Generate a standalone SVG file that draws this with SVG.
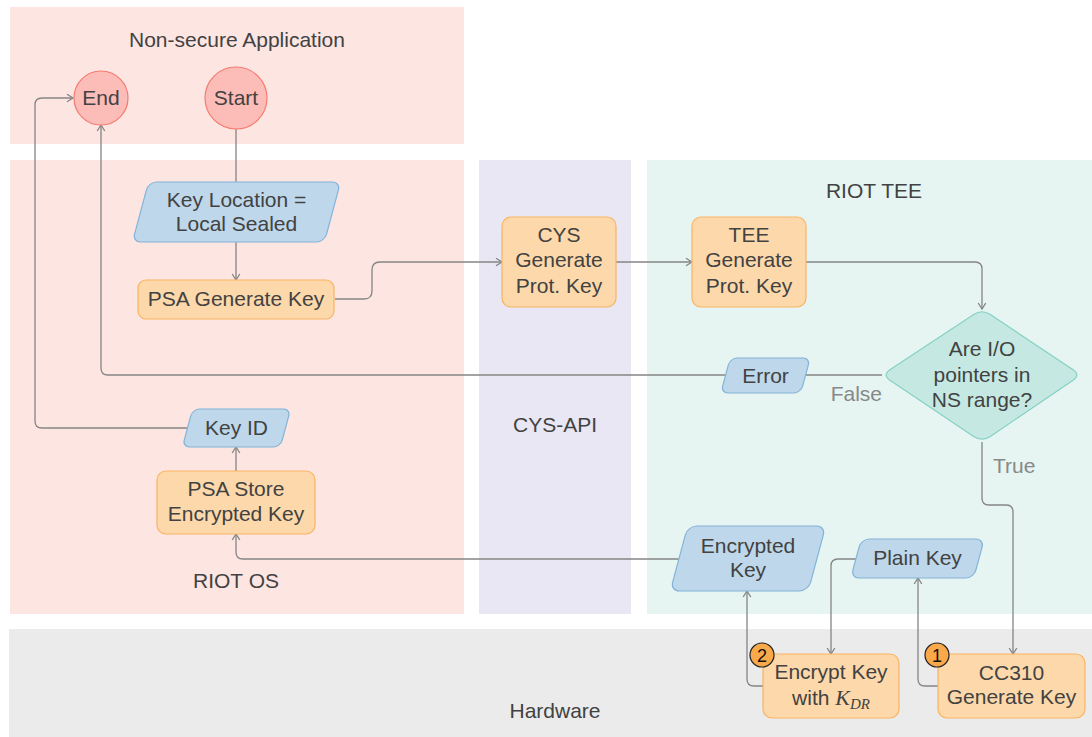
<svg xmlns="http://www.w3.org/2000/svg" width="1092" height="737" viewBox="0 0 1092 737">
  <style>
    text { font-family: "Liberation Sans", Arial, sans-serif; font-size: 21px; fill: #424242; text-anchor: middle; }
    .lane-os { fill: #fde5e2; }
    .lane-api { fill: #e9e7f3; }
    .lane-tee { fill: #e6f5f2; }
    .lane-hw { fill: #ebebeb; }
    .proc { fill: #fdd8aa; stroke: #f9b462; stroke-width: 1.2; }
    .data { fill: #bed7ea; stroke: #82b3d8; stroke-width: 1.2; }
    .term { fill: #fcbcb7; stroke: #f57b70; stroke-width: 1.2; }
    .dec { fill: #c5e9e2; stroke: #85d1c3; stroke-width: 1.2; }
    .badge { fill: #f9a84a; stroke: #222; stroke-width: 1.2; }
    .badge-t { fill: #111; font-size: 18px; }
    .edge { fill: none; stroke: #858585; stroke-width: 1.3; }
    .arr { marker-end: url(#head); }
    .elabel { fill: #888; }
  </style>
  <defs>
    <marker id="head" markerUnits="userSpaceOnUse" markerWidth="12" markerHeight="12" viewBox="-8 -6 10 12" refX="0" refY="0" orient="auto">
      <path d="M-6,-3.8 L0,0 L-6,3.8" fill="none" stroke="#858585" stroke-width="1.3"/>
    </marker>
  </defs>

  <!-- swimlanes -->
  <g id="lanes">
    <rect class="lane-os" x="10" y="7" width="454" height="137"/>
    <rect class="lane-os" x="10" y="160" width="454" height="454"/>
    <rect class="lane-api" x="479" y="160" width="152" height="454"/>
    <rect class="lane-tee" x="647" y="160" width="445" height="454"/>
    <rect class="lane-hw" x="9" y="629" width="1083" height="108"/>
    <text x="237" y="47">Non-secure Application</text>
    <text x="236" y="588">RIOT OS</text>
    <text x="555" y="432">CYS-API</text>
    <text x="874" y="198">RIOT TEE</text>
    <text x="555" y="718">Hardware</text>
  </g>

  <!-- connectors -->
  <g id="connectors">
    <path class="edge" d="M236,129 V182"/>
    <path class="edge arr" d="M236,242 V280"/>
    <path class="edge arr" d="M335,299 H364 Q372,299 372,291 V270 Q372,262 380,262 H502"/>
    <path class="edge arr" d="M616,262 H692"/>
    <path class="edge arr" d="M806,262 H975 Q982,262 982,269 V309"/>
    <path class="edge arr" d="M882,375 H108 Q101,375 101,368 V125"/>
    <path class="edge arr" d="M982,442 V498 Q982,505 989,505 H1006 Q1013,505 1013,512 V654"/>
    <path class="edge arr" d="M938,686 H925 Q918,686 918,679 V578"/>
    <path class="edge arr" d="M856,559 H838 Q831,559 831,566 V654"/>
    <path class="edge arr" d="M763,686 H754 Q747,686 747,679 V591"/>
    <path class="edge arr" d="M680,559 H243 Q236,559 236,552 V534"/>
    <path class="edge arr" d="M236,471 V447"/>
    <path class="edge arr" d="M188,428 H42 Q35,428 35,421 V105 Q35,98 42,98 H73"/>
    <text class="elabel" x="882" y="401" style="text-anchor:end">False</text>
    <text class="elabel" x="993" y="473" style="text-anchor:start">True</text>
  </g>

  <!-- nodes -->
  <g id="end">
    <circle class="term" cx="101" cy="98" r="27"/>
    <text x="101" y="105">End</text>
  </g>
  <g id="start">
    <circle class="term" cx="236" cy="98" r="31"/>
    <text x="236" y="105">Start</text>
  </g>
  <g id="key-location">
    <rect class="data" x="-96" y="-30" width="192" height="60" rx="8" transform="translate(236.5,212) skewX(-15)"/>
    <text x="236.5" y="207">Key Location =</text>
    <text x="236.5" y="231">Local Sealed</text>
  </g>
  <g id="psa-generate">
    <rect class="proc" x="138" y="280" width="196" height="39" rx="8"/>
    <text x="236" y="306">PSA Generate Key</text>
  </g>
  <g id="cys-generate">
    <rect class="proc" x="502" y="217" width="114" height="90" rx="9"/>
    <text x="559" y="242">CYS</text>
    <text x="559" y="267">Generate</text>
    <text x="559" y="293">Prot.  Key</text>
  </g>
  <g id="tee-generate">
    <rect class="proc" x="692" y="217" width="114" height="90" rx="9"/>
    <text x="749" y="242">TEE</text>
    <text x="749" y="267">Generate</text>
    <text x="749" y="293">Prot.  Key</text>
  </g>
  <g id="check-range">
    <path class="dec" d="M990.3,314.5 L1072.7,369.5 Q1081,375 1072.7,380.6 L990.3,436.4 Q982,442 973.7,436.4 L890.3,380.5 Q882,375 890.3,369.5 L973.7,314.5 Q982,309 990.3,314.5 Z"/>
    <text x="982" y="356">Are I/O</text>
    <text x="982" y="382">pointers in</text>
    <text x="982" y="407">NS range?</text>
  </g>
  <g id="error">
    <rect class="data" x="-40" y="-17.5" width="80" height="35" rx="7" transform="translate(765.5,375.5) skewX(-15)"/>
    <text x="765.5" y="383">Error</text>
  </g>
  <g id="key-id">
    <rect class="data" x="-49" y="-19" width="98" height="38" rx="7" transform="translate(236.5,428) skewX(-15)"/>
    <text x="236.5" y="435">Key ID</text>
  </g>
  <g id="psa-store">
    <rect class="proc" x="157" y="471" width="158" height="63" rx="9"/>
    <text x="236" y="496">PSA Store</text>
    <text x="236" y="521">Encrypted Key</text>
  </g>
  <g id="encrypted-key">
    <rect class="data" x="-69" y="-32.5" width="138" height="65" rx="9" transform="translate(748,558.5) skewX(-15)"/>
    <text x="748" y="553">Encrypted</text>
    <text x="748" y="577">Key</text>
  </g>
  <g id="plain-key">
    <rect class="data" x="-61.5" y="-19.5" width="123" height="39" rx="8" transform="translate(917.5,558.5) skewX(-15)"/>
    <text x="917.5" y="565">Plain Key</text>
  </g>
  <g id="encrypt-key">
    <rect class="proc" x="763" y="654" width="136" height="64" rx="9"/>
    <text x="831" y="679">Encrypt Key</text>
    <text x="831" y="705">with <tspan font-family="Liberation Serif, serif" font-style="italic" font-size="22">K</tspan><tspan font-family="Liberation Serif, serif" font-style="italic" font-size="15" dy="4">DR</tspan></text>
    <circle class="badge" cx="762" cy="655" r="12"/>
    <text class="badge-t" x="762" y="661.5">2</text>
  </g>
  <g id="cc310-generate">
    <rect class="proc" x="938" y="654" width="147" height="64" rx="9"/>
    <text x="1011.5" y="680">CC310</text>
    <text x="1011.5" y="704">Generate Key</text>
    <circle class="badge" cx="937" cy="655" r="12"/>
    <text class="badge-t" x="937" y="661.5">1</text>
  </g>
</svg>
